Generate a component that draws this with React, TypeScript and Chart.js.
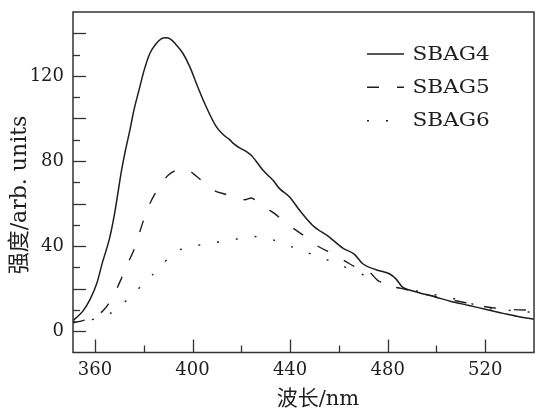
import { useEffect, useRef } from 'react';
import { Chart, registerables } from 'chart.js';

Chart.register(...registerables);

const SERIES_LABELS = ['SBAG4', 'SBAG5', 'SBAG6'];

const SBAG4_X = [351, 353, 355.2, 358, 360.7, 363, 366.1, 368, 370.9, 372.5, 374.3, 376, 378.4, 380, 382.5, 385, 387, 389, 391, 393, 396.1, 399, 401.6, 405, 409.8, 413, 415.2, 417, 419.3, 422, 424.1, 426, 428.9, 433, 435.7, 439.8, 443.9, 449.3, 456.1, 461.6, 466.4, 469.8, 475.2, 480.7, 483.4, 486.1, 490, 499.8, 506, 513.4, 520, 527, 533, 540];
const SBAG4_Y = [5, 7, 9.7, 15, 22.3, 32, 44.2, 55, 75.6, 85, 94.4, 104, 114.8, 122, 130.5, 135, 137.3, 137.9, 137.3, 135, 130.5, 124, 116.4, 107, 96, 92, 90, 88, 86.1, 84.5, 82.7, 80, 75.6, 70.9, 67, 63.1, 56.8, 49.7, 44.2, 39.1, 36.1, 31.7, 28.9, 27, 24.6, 20.7, 19, 16, 14, 12.1, 10.3, 8.5, 7, 5.6];

const SBAG5_X = [351, 355, 359, 363.4, 367.2, 370.5, 372.7, 376, 377.7, 380, 382.2, 385.9, 390, 393, 396.8, 401.6, 405, 408.7, 413.9, 418, 421.4, 424.1, 426.2, 430, 433.4, 438.7, 445.5, 450.9, 458.2, 463.6, 468, 472.5, 475.9, 480, 486, 495, 505, 512, 520, 530, 540];
const SBAG5_Y = [4, 5, 6.5, 9.7, 16, 23.9, 30.1, 38.3, 44.2, 52.4, 59.2, 67, 73.3, 75.5, 76.4, 72.8, 69.5, 66.2, 64.2, 62.5, 61.8, 62.6, 61.2, 58, 55.5, 50.5, 45, 40.3, 36, 32.2, 29.5, 27.8, 23.9, 21.5, 20, 17.5, 15, 13.4, 11.5, 10.3, 9.8];

const SBAG6_X = [351, 355, 359, 362, 366.4, 370, 373.6, 377, 380.5, 384, 387.3, 391, 394.8, 398, 402, 405, 409.4, 413, 416.9, 420, 424.1, 428, 431.6, 435, 439.1, 442.8, 446.6, 450, 454.1, 458, 461.6, 466, 470, 476.6, 482, 490, 500, 510, 520, 530, 540];
const SBAG6_Y = [4.5, 5, 5.5, 6.8, 8.5, 11.5, 15.2, 19, 23, 27, 31.2, 35, 38.3, 39.5, 40.3, 41, 41.7, 42.3, 43, 43.8, 44.6, 44.2, 43.5, 42, 40.3, 38.8, 37.2, 35.7, 34, 32.3, 30.6, 28.5, 26.5, 23.4, 21, 19.3, 17, 14.5, 11, 9.8, 8.8];

const X_TICK_LABELS = [360, 400, 440, 480, 520];
const X_MINOR_TICKS = [380, 420, 460, 500];
const Y_TICK_LABELS = [0, 40, 80, 120];
const Y_MID_TICKS = [20, 60, 100, 140];
const Y_MINOR_TICKS = [10, 30, 50, 70, 90, 110, 130];

const X_TITLE = '波长/nm';
const Y_TITLE = '强度/arb. units';

const INK = '#1e1e1e';
const FONT = '"DejaVu Serif", "Noto Sans CJK SC", serif';

const zip = (xs: number[], ys: number[]) => xs.map((x, i) => ({ x, y: ys[i] }));

const DASHES: number[][] = [[], [12, 18], [2, 17]];

const framePlugin = {
  id: 'frame',
  afterDraw(chart: any) {
    const { ctx, chartArea: a, scales } = chart;
    const xs = scales.x;
    const ys = scales.y;
    ctx.save();
    ctx.strokeStyle = '#333';
    ctx.lineWidth = 1.5;
    ctx.setLineDash([]);
    ctx.strokeRect(a.left, a.top, a.right - a.left, a.bottom - a.top);

    ctx.lineWidth = 1.3;
    const tickX = (v: number, len: number) => {
      const p = Math.round(xs.getPixelForValue(v)) + 0.5;
      ctx.beginPath();
      ctx.moveTo(p, a.bottom);
      ctx.lineTo(p, a.bottom - len);
      ctx.stroke();
    };
    const tickY = (v: number, len: number) => {
      const p = Math.round(ys.getPixelForValue(v)) + 0.5;
      ctx.beginPath();
      ctx.moveTo(a.left, p);
      ctx.lineTo(a.left + len, p);
      ctx.stroke();
    };
    X_TICK_LABELS.forEach((v) => tickX(v, 13));
    X_MINOR_TICKS.forEach((v) => tickX(v, 7));
    Y_TICK_LABELS.forEach((v) => tickY(v, 13));
    Y_MID_TICKS.forEach((v) => tickY(v, 13));
    Y_MINOR_TICKS.forEach((v) => tickY(v, 7));

    // legend
    const lx0 = a.left + 294;
    const lx1 = a.left + 331;
    const rowY = [a.top + 42, a.top + 75.3, a.top + 108.7];
    chart.data.datasets.forEach((ds: any, i: number) => {
      const yy = rowY[i];
      ctx.strokeStyle = INK;
      ctx.lineWidth = 1.4;
      ctx.setLineDash(DASHES[i]);
      ctx.beginPath();
      ctx.moveTo(lx0, yy);
      ctx.lineTo(lx1, yy);
      ctx.stroke();
      ctx.setLineDash([]);
      ctx.save();
      ctx.translate(lx1 + 8.5, yy);
      ctx.scale(1.2, 1);
      ctx.fillStyle = INK;
      ctx.font = '18px ' + FONT;
      ctx.textAlign = 'left';
      ctx.textBaseline = 'middle';
      ctx.fillText(ds.label, 0, 1);
      ctx.restore();
    });

    // axis titles
    ctx.fillStyle = INK;
    ctx.font = '21px ' + FONT;
    ctx.textAlign = 'center';
    ctx.textBaseline = 'middle';
    ctx.fillText(X_TITLE, 318, 400);
    ctx.save();
    ctx.translate(20, 195);
    ctx.rotate(-Math.PI / 2);
    ctx.font = '22px ' + FONT;
    ctx.fillText(Y_TITLE, 0, 0);
    ctx.restore();

    ctx.restore();
  },
};

export default function App() {
  const ref = useRef<HTMLCanvasElement | null>(null);
  useEffect(() => {
    if (!ref.current) return;
    const series = [zip(SBAG4_X, SBAG4_Y), zip(SBAG5_X, SBAG5_Y), zip(SBAG6_X, SBAG6_Y)];
    const chart = new Chart(ref.current, {
      type: 'line',
      data: {
        datasets: series.map((d, i) => ({
          label: SERIES_LABELS[i],
          data: d,
          borderColor: INK,
          borderWidth: i === 0 ? 1.5 : 1.4,
          borderDash: DASHES[i],
          pointRadius: 0,
          fill: false,
          cubicInterpolationMode: 'monotone' as const,
        })),
      },
      options: {
        animation: false,
        responsive: false,
        layout: { padding: { left: 0, top: 12, right: 1, bottom: 0 } },
        plugins: {
          legend: { display: false },
          tooltip: { enabled: false },
        },
        scales: {
          x: {
            type: 'linear',
            min: 351,
            max: 540,
            grid: { display: false, drawTicks: false },
            border: { display: false },
            afterBuildTicks: (axis: any) => {
              axis.ticks = X_TICK_LABELS.map((v) => ({ value: v }));
            },
            afterFit: (axis: any) => {
              axis.height = 59.5;
              axis.paddingLeft = 0;
              axis.paddingRight = 0;
            },
            ticks: {
              padding: 7,
              color: INK,
              font: { family: FONT, size: 18 },
              maxRotation: 0,
              callback: (v: any) => String(v),
            },
          },
          y: {
            type: 'linear',
            min: -10,
            max: 150,
            grid: { display: false, drawTicks: false },
            border: { display: false },
            afterBuildTicks: (axis: any) => {
              axis.ticks = Y_TICK_LABELS.map((v) => ({ value: v }));
            },
            afterFit: (axis: any) => {
              axis.width = 73;
              axis.paddingTop = 0;
              axis.paddingBottom = 0;
            },
            ticks: {
              padding: 9,
              color: INK,
              font: { family: FONT, size: 18 },
              callback: (v: any) => String(v),
            },
          },
        },
      },
      plugins: [framePlugin],
    });
    return () => chart.destroy();
  }, []);
  return (
    <div style={{ position: 'fixed', left: 0, top: 0, width: 535, height: 412, background: '#fff' }}>
      <canvas ref={ref} width={535} height={412} style={{ display: 'block', width: 535, height: 412 }} />
    </div>
  );
}
